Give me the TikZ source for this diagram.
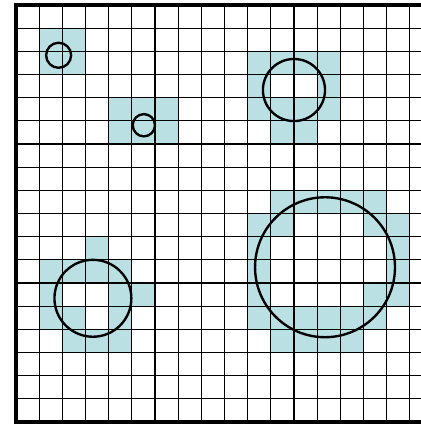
\documentclass[tikz,border=0pt]{standalone}
\usetikzlibrary{calc}
\definecolor{cellfill}{RGB}{186,224,228}
\tikzset{gridline/.style={line width=1.3pt},obstacle/.style={line width=2.9pt},
 frame/.style={line width=5pt}}
\begin{document}
\begin{tikzpicture}[x=1cm,y=-1cm]
\useasboundingbox (-0.69,-0.216) rectangle (17.48,18.13);
% occupied cells (column/row, rows counted from the top)
\foreach \c/\r in {1/1,2/1,1/2,2/2, 4/4,5/4,6/4,4/5,5/5,6/5,
 10/2,11/2,12/2,13/2,10/3,13/3,10/4,11/4,12/4,13/4,11/5,12/5,
 3/10,1/11,2/11,3/11,4/11,1/12,4/12,5/12,1/13,2/13,4/13,2/14,3/14,4/14,
 11/8,12/8,13/8,14/8,15/8,10/9,11/9,15/9,16/9,10/10,16/10,10/11,16/11,
 10/12,15/12,16/12,10/13,11/13,12/13,13/13,14/13,15/13,11/14,12/14,13/14,14/14}
 \fill[cellfill] (\c,\r) rectangle ++(1,1);
\draw[gridline] (0,0) grid (18,18);
\draw[frame] (0,0) rectangle (18,18);
% obstacles
\coordinate (O1) at (1.84,2.17);
\coordinate (O2) at (5.52,5.19);
\coordinate (O3) at (12.0,3.67);
\coordinate (O4) at (3.32,12.66);
\coordinate (O5) at (13.34,11.32);
\draw[obstacle] (O1) circle (0.54);
\draw[obstacle] (O2) circle (0.48);
\draw[obstacle] (O3) circle (1.34);
\draw[obstacle] (O4) circle (1.66);
\draw[obstacle] (O5) circle (3.02);
\end{tikzpicture}
\end{document}
